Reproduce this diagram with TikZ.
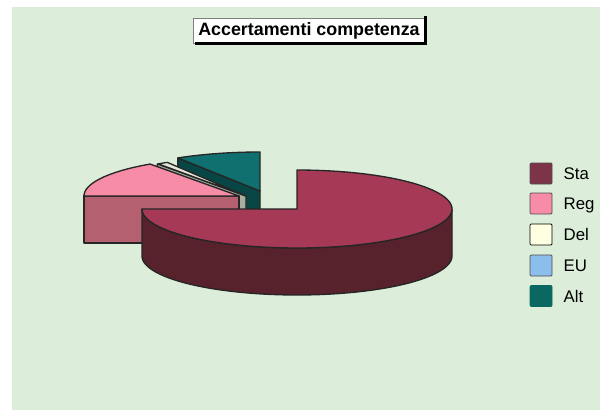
\documentclass[tikz,border=0pt]{standalone}
\usepackage{fontspec}
\setmainfont{Liberation Sans}
\usetikzlibrary{positioning}

\definecolor{chartbg}{HTML}{DCEEDA}
\definecolor{statop}{HTML}{A63A56}
\definecolor{staside}{HTML}{58222C}
\definecolor{stakey}{HTML}{7D3448}
\definecolor{regtop}{HTML}{F68CA6}
\definecolor{regside}{HTML}{B46070}
\definecolor{deltop}{HTML}{E4E8DA}
\definecolor{delside}{HTML}{A8AEA0}
\definecolor{delkey}{HTML}{FFFFE2}
\definecolor{eukey}{HTML}{8CBEEB}
\definecolor{alttop}{HTML}{107070}
\definecolor{altside}{HTML}{084646}
\definecolor{altkey}{HTML}{0A6860}

\tikzset{
  face/.style={draw=black!85, line width=1pt, line join=round},
  key/.style={draw=black!70, line width=0.6pt, minimum width=16.5pt, minimum height=15.75pt, inner sep=0pt, rounded corners=0.8pt},
  keylabel/.style={inner sep=0pt, text height=9pt, text depth=0pt, font=\fontsize{12.6}{14}\selectfont},
  titlebox/.style={draw=black!50, line width=0.5pt, fill=white, minimum width=174pt, minimum height=18.75pt, inner sep=0pt, font=\bfseries\fontsize{13.4}{15}\selectfont},
}

\begin{document}
\begin{tikzpicture}[x=0.75pt,y=0.75pt,yscale=-1,xscale=1]
\useasboundingbox (0,0) rectangle (605,418);

%Shape: chart area
\fill[chartbg] (12,7) rectangle (600,410);

% Title
\node[titlebox] (title) at (309,30.5) {Accertamenti competenza};
\draw[line width=2.2pt] ([yshift=-1pt]title.north east) -- (title.south east) -- ([xshift=2pt]title.south west);

%Shape: Alt slice, cut face
\draw[face, fill=altside] (260,191) -- (177.9,157.9) -- (177.9,204.9) -- (260,238) -- cycle;
%Shape: Alt slice, top
\draw[face, fill=alttop] (260,191) -- plot[domain=90:122,samples=20] ({260+155*cos(\x)},{191-39*sin(\x)}) -- cycle;

%Shape: Del slice, cut face
\draw[face, fill=delside] (246,196) -- (157.2,163.9) -- (157.2,210.9) -- (246,243) -- cycle;
%Shape: Del slice, top
\draw[face, fill=deltop] (246,196) -- plot[domain=120.5:124.5,samples=5] ({246+155*cos(\x)},{196-39*sin(\x)}) -- cycle;

%Shape: Reg slice, cut face
\draw[face, fill=regside] (239,196) -- (84,196) -- (84,243) -- (239,243) -- cycle;
%Shape: Reg slice, top
\draw[face, fill=regtop] (239,196) -- plot[domain=125:180,samples=25] ({239+155*cos(\x)},{196-39*sin(\x)}) -- cycle;

%Shape: Sta slice, rim
\draw[face, fill=staside] plot[domain=180:360,samples=60] ({297+155*cos(\x)},{209-39*sin(\x)}) -- plot[domain=360:180,samples=60] ({297+155*cos(\x)},{256-39*sin(\x)}) -- cycle;
%Shape: Sta slice, top
\draw[face, fill=statop] (297,209) -- plot[domain=-180:90,samples=90] ({297+155*cos(\x)},{209-39*sin(\x)}) -- cycle;

% Legend
\node[key, fill=stakey] (sta key) at (541,173.5) {};
\node[keylabel, right=8.25pt of sta key] (sta label) {Sta};
\node[key, fill=regtop] (reg key) at (541,203.5) {};
\node[keylabel, right=8.25pt of reg key] (reg label) {Reg};
\node[key, fill=delkey, draw=black] (del key) at (541,234.5) {};
\node[keylabel, right=8.25pt of del key] (del label) {Del};
\node[key, fill=eukey] (eu key) at (541,265.5) {};
\node[keylabel, right=8.25pt of eu key] (eu label) {EU};
\node[key, fill=altkey, draw=altkey] (alt key) at (541,296) {};
\node[keylabel, right=8.25pt of alt key] (alt label) {Alt};

\end{tikzpicture}
\end{document}
